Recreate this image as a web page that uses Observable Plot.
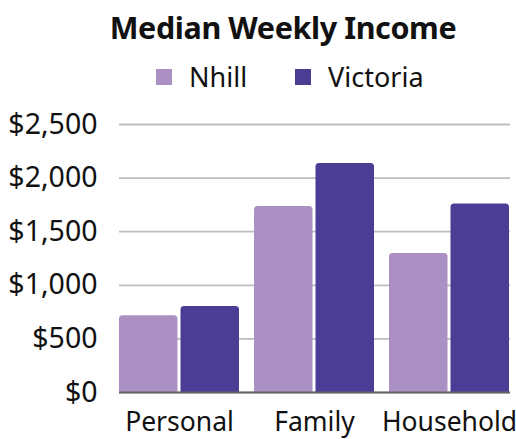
<!DOCTYPE html>
<html>
<head>
<meta charset="utf-8">
<script src="https://cdn.jsdelivr.net/npm/d3@7"></script>
<script src="https://cdn.jsdelivr.net/npm/@observablehq/plot@0.6"></script>
<style>
  html, body { margin: 0; padding: 0; background: #fff; }
  body { width: 516px; height: 439px; overflow: hidden; font-family: "Noto Sans", "Open Sans", sans-serif; }
  #title { position: absolute; left: 0; width: 516px; top: 7px; text-align: center; padding-left: 50px; box-sizing: border-box;
           font-size: 30.5px; font-weight: 700; color: #111; line-height: 40px; letter-spacing: -0.4px; }
  #legend { position: absolute; top: 60px; left: 156px; display: flex; align-items: center; font-size: 27px; color: #111; line-height: 34px; }
  .sw { display: inline-block; width: 16px; height: 16px; margin-right: 17px; }
  .item { display: flex; align-items: center; margin-right: 48px; }
  #chart { position: absolute; top: 100px; left: 0; }
</style>
</head>
<body>
<div id="title">Median Weekly Income</div>
<div id="legend"></div>
<div id="chart"></div>
<script>
const categories = ["Personal", "Family", "Household"];
const seriesNames = ["Nhill", "Victoria"];
const nhill = [715, 1735, 1297];
const victoria = [803, 2136, 1759];
const yTicks = [0, 500, 1000, 1500, 2000, 2500];
const colors = ["#ab90c4", "#4b3d96"];

const nhillData = categories.map((c, i) => ({category: c, series: seriesNames[0], value: nhill[i]}));
const vicData = categories.map((c, i) => ({category: c, series: seriesNames[1], value: victoria[i]}));

const legend = document.getElementById("legend");
seriesNames.forEach((s, i) => {
  const it = document.createElement("div");
  it.className = "item";
  it.innerHTML = `<span class="sw" style="background:${colors[i]}"></span><span>${s}</span>`;
  legend.appendChild(it);
});

const chart = Plot.plot({
  width: 516,
  height: 339,
  marginTop: 24,
  marginBottom: 47,
  marginLeft: 119,
  marginRight: 6,
  style: {fontFamily: "'Noto Sans', 'Open Sans', sans-serif", fontSize: "27px", color: "#111", overflow: "visible"},
  x: {domain: categories, paddingInner: 0.111, paddingOuter: 0, label: null},
  y: {domain: [0, 2500], ticks: yTicks, label: null},
  color: {domain: seriesNames, range: colors},
  marks: [
    Plot.ruleY(yTicks, {stroke: "#bdbdbd", strokeWidth: 1.8}),
    Plot.barY(nhillData, {x: "category", y: "value", fill: "series", insetRight: 61.5, ry1: 3.5}),
    Plot.barY(vicData, {x: "category", y: "value", fill: "series", insetLeft: 61.5, ry1: 3.5}),
    Plot.ruleY([0], {stroke: "#666", strokeWidth: 2}),
    Plot.axisY(yTicks, {tickFormat: d3.format("$,"), tickSize: 0, tickPadding: 22, fontSize: 28.5, label: null, fill: "#111"}),
    Plot.axisX({tickSize: 0, tickPadding: 20, fontSize: 26.5, label: null, fill: "#111"})
  ]
});
document.getElementById("chart").appendChild(chart);
</script>
</body>
</html>
